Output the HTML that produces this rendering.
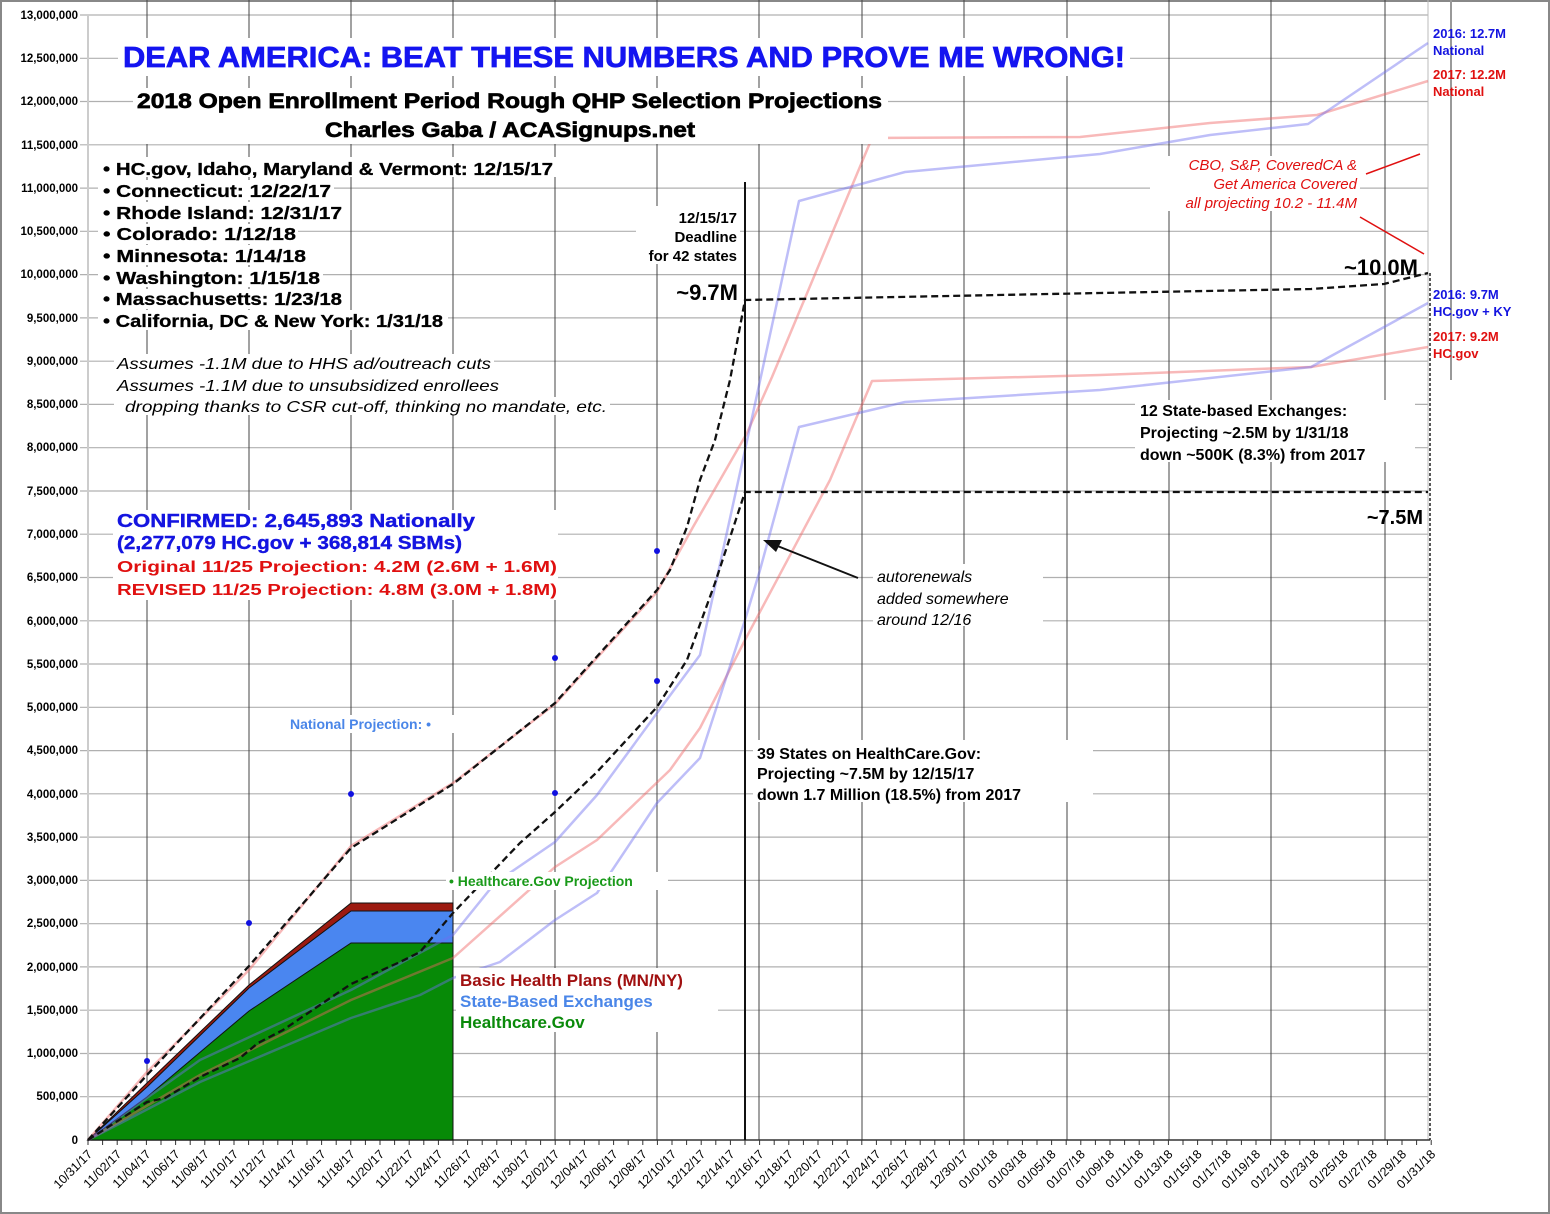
<!DOCTYPE html>
<html><head><meta charset="utf-8"><style>
html,body{margin:0;padding:0;background:#fff}
svg{display:block}
text{font-family:"Liberation Sans",sans-serif}
.yl{font-size:11.5px;font-weight:bold;text-anchor:end}
.xl{font-size:12.5px}
.b{font-weight:bold}
.h{stroke-width:0.7}
</style></head><body>
<svg width="1550" height="1214" viewBox="0 0 1550 1214" xmlns="http://www.w3.org/2000/svg">
<rect x="1" y="1" width="1548" height="1212" fill="#fff" stroke="#888" stroke-width="2"/>
<line x1="1451" y1="0" x2="1451" y2="380" stroke="#999" stroke-width="2"/>
<g stroke="#b0b0b0" stroke-width="1.2">
<line x1="80" y1="15" x2="1428" y2="15"/><line x1="80" y1="58.3" x2="1428" y2="58.3"/><line x1="80" y1="101.5" x2="1428" y2="101.5"/><line x1="80" y1="144.8" x2="1428" y2="144.8"/><line x1="80" y1="188.1" x2="1428" y2="188.1"/><line x1="80" y1="231.3" x2="1428" y2="231.3"/><line x1="80" y1="274.6" x2="1428" y2="274.6"/><line x1="80" y1="317.9" x2="1428" y2="317.9"/><line x1="80" y1="361.2" x2="1428" y2="361.2"/><line x1="80" y1="404.4" x2="1428" y2="404.4"/><line x1="80" y1="447.7" x2="1428" y2="447.7"/><line x1="80" y1="491" x2="1428" y2="491"/><line x1="80" y1="534.2" x2="1428" y2="534.2"/><line x1="80" y1="577.5" x2="1428" y2="577.5"/><line x1="80" y1="620.8" x2="1428" y2="620.8"/><line x1="80" y1="664" x2="1428" y2="664"/><line x1="80" y1="707.3" x2="1428" y2="707.3"/><line x1="80" y1="750.6" x2="1428" y2="750.6"/><line x1="80" y1="793.8" x2="1428" y2="793.8"/><line x1="80" y1="837.1" x2="1428" y2="837.1"/><line x1="80" y1="880.4" x2="1428" y2="880.4"/><line x1="80" y1="923.7" x2="1428" y2="923.7"/><line x1="80" y1="966.9" x2="1428" y2="966.9"/><line x1="80" y1="1010.2" x2="1428" y2="1010.2"/><line x1="80" y1="1053.5" x2="1428" y2="1053.5"/><line x1="80" y1="1096.7" x2="1428" y2="1096.7"/>
</g>
<g stroke="#444" stroke-width="1">
<line x1="147" y1="0" x2="147" y2="1140"/><line x1="249" y1="0" x2="249" y2="1140"/><line x1="351" y1="0" x2="351" y2="1140"/><line x1="453" y1="0" x2="453" y2="1140"/><line x1="555" y1="0" x2="555" y2="1140"/><line x1="657" y1="0" x2="657" y2="1140"/><line x1="759" y1="0" x2="759" y2="1140"/><line x1="862" y1="0" x2="862" y2="1140"/><line x1="964" y1="0" x2="964" y2="1140"/><line x1="1067" y1="0" x2="1067" y2="1140"/><line x1="1169" y1="0" x2="1169" y2="1140"/><line x1="1271" y1="0" x2="1271" y2="1140"/><line x1="1385" y1="0" x2="1385" y2="1140"/>
</g>
<line x1="1428" y1="0" x2="1428" y2="1140" stroke="#bbb" stroke-width="1"/>
<line x1="88" y1="15" x2="88" y2="1141" stroke="#ccc" stroke-width="2"/>
<line x1="88" y1="1140" x2="1430" y2="1140" stroke="#333" stroke-width="1.5"/>
<line x1="1430" y1="273" x2="1430" y2="1140" stroke="#222" stroke-width="1.5" stroke-dasharray="3,2"/>
<g class="yl">
<text x="78" y="19">13,000,000</text><text x="78" y="62">12,500,000</text><text x="78" y="105">12,000,000</text><text x="78" y="149">11,500,000</text><text x="78" y="192">11,000,000</text><text x="78" y="235">10,500,000</text><text x="78" y="278">10,000,000</text><text x="78" y="322">9,500,000</text><text x="78" y="365">9,000,000</text><text x="78" y="408">8,500,000</text><text x="78" y="451">8,000,000</text><text x="78" y="495">7,500,000</text><text x="78" y="538">7,000,000</text><text x="78" y="581">6,500,000</text><text x="78" y="625">6,000,000</text><text x="78" y="668">5,500,000</text><text x="78" y="711">5,000,000</text><text x="78" y="754">4,500,000</text><text x="78" y="798">4,000,000</text><text x="78" y="841">3,500,000</text><text x="78" y="884">3,000,000</text><text x="78" y="927">2,500,000</text><text x="78" y="971">2,000,000</text><text x="78" y="1014">1,500,000</text><text x="78" y="1057">1,000,000</text><text x="78" y="1100">500,000</text><text x="78" y="1144">0</text>
</g>
<g id="xt" stroke="#333" stroke-width="1"></g>
<g class="xl" id="xlab"></g>
<polygon points="88,1140 147,1083 249,985 351,903 453,903 453,1140" fill="#9c1a10" stroke="#111" stroke-width="1"/>
<polygon points="88,1140 147,1087 249,988 351,911 453,911 453,1140" fill="#4a86f0" stroke="#111" stroke-width="1"/>
<polygon points="88,1140 147,1097 249,1011 351,943 453,943 453,1140" fill="#078a07" stroke="#111" stroke-width="1"/>
<g fill="none" stroke-width="2.5" stroke-linejoin="round">
<polyline stroke="rgba(240,100,100,0.45)" points="88,1140 147,1072 249,970 351,846 453,783 555,704 657,592 673,563 693,527 720,480 747,433 772,377 872,138 1080,137 1210,123 1317,115 1428,81"/>
<polyline stroke="rgba(110,110,240,0.45)" points="88,1140 200,1060 351,990 453,935 495,883 555,842 597,795 657,713 700,655 745,450 799,201 905,172 1100,154 1210,135 1308,124 1428,43"/>
<polyline stroke="rgba(240,100,100,0.45)" points="88,1140 200,1075 351,1000 453,958 555,867 597,840 670,770 700,728 745,640 830,480 872,381 1100,375 1311,367 1428,347"/>
<polyline stroke="rgba(110,110,240,0.45)" points="88,1140 200,1082 351,1018 420,995 453,978 500,962 555,920 597,893 657,803 700,758 745,620 760,570 799,427 905,402 1100,390 1311,367 1428,303"/>
</g>
<g fill="none" stroke="#111" stroke-width="2.3" stroke-dasharray="7,4">
<polyline points="88,1140 147,1075 249,966 351,848 453,784 555,703 657,590 670,570 687,527 700,480 715,440 730,380 745,300 1100,293 1311,289 1384,284 1428,273"/>
<polyline points="88,1140 147,1102 165,1098 200,1077 240,1058 258,1043 283,1030 351,984 400,962 420,952 453,913 520,843 555,812 597,772 657,707 687,660 715,583 745,492 1428,492"/>
</g>
<line x1="745" y1="182" x2="745" y2="1140" stroke="#111" stroke-width="2"/>
<g fill="#1010e0">
<circle cx="147" cy="1061" r="3"/><circle cx="249" cy="923" r="3"/><circle cx="351" cy="794" r="3"/><circle cx="555" cy="658" r="3"/><circle cx="555" cy="793" r="3"/><circle cx="657" cy="551" r="3"/><circle cx="657" cy="681" r="3"/>
</g>
<rect x="118" y="38" width="1012" height="38" fill="#fff"/>
<text x="123" y="67" class="b h" font-size="29" fill="#1414f0" stroke="#1414f0" textLength="1002" lengthAdjust="spacingAndGlyphs">DEAR AMERICA: BEAT THESE NUMBERS AND PROVE ME WRONG!</text>
<rect x="133" y="88" width="755" height="56" fill="#fff"/>
<text x="137" y="108" class="b h" font-size="21" stroke="#000" textLength="745" lengthAdjust="spacingAndGlyphs">2018 Open Enrollment Period Rough QHP Selection Projections</text>
<text x="325" y="137" class="b h" font-size="21" stroke="#000" textLength="370" lengthAdjust="spacingAndGlyphs">Charles Gaba / ACASignups.net</text>
<g class="b" font-size="17.5" stroke="#000" stroke-width="0.3">
<rect x="98" y="157" width="460" height="20" fill="#fff" stroke="none"/><text x="103" y="175" textLength="450" lengthAdjust="spacingAndGlyphs">• HC.gov, Idaho, Maryland &amp; Vermont: 12/15/17</text>
<rect x="98" y="180" width="236" height="20" fill="#fff" stroke="none"/><text x="103" y="197" textLength="228" lengthAdjust="spacingAndGlyphs">• Connecticut: 12/22/17</text>
<rect x="98" y="202" width="248" height="20" fill="#fff" stroke="none"/><text x="103" y="219" textLength="239" lengthAdjust="spacingAndGlyphs">• Rhode Island: 12/31/17</text>
<rect x="98" y="224" width="200" height="20" fill="#fff" stroke="none"/><text x="103" y="240" textLength="193" lengthAdjust="spacingAndGlyphs">• Colorado: 1/12/18</text>
<rect x="98" y="245" width="210" height="20" fill="#fff" stroke="none"/><text x="103" y="262" textLength="203" lengthAdjust="spacingAndGlyphs">• Minnesota: 1/14/18</text>
<rect x="98" y="267" width="225" height="20" fill="#fff" stroke="none"/><text x="103" y="284" textLength="217" lengthAdjust="spacingAndGlyphs">• Washington: 1/15/18</text>
<rect x="98" y="289" width="246" height="20" fill="#fff" stroke="none"/><text x="103" y="305" textLength="239" lengthAdjust="spacingAndGlyphs">• Massachusetts: 1/23/18</text>
<rect x="98" y="310" width="350" height="20" fill="#fff" stroke="none"/><text x="103" y="327" textLength="340" lengthAdjust="spacingAndGlyphs">• California, DC &amp; New York: 1/31/18</text>
</g>
<g font-size="16" font-style="italic">
<rect x="114" y="354" width="380" height="60" fill="#fff"/>
<rect x="114" y="397" width="496" height="18" fill="#fff"/>
<text x="117" y="369" textLength="374" lengthAdjust="spacingAndGlyphs">Assumes -1.1M due to HHS ad/outreach cuts</text>
<text x="117" y="391" textLength="382" lengthAdjust="spacingAndGlyphs">Assumes -1.1M due to unsubsidized enrollees</text>
<text x="125" y="412" textLength="482" lengthAdjust="spacingAndGlyphs">dropping thanks to CSR cut-off, thinking no mandate, etc.</text>
</g>
<g class="b" font-size="15" text-anchor="end">
<rect x="636" y="206" width="104" height="58" fill="#fff"/>
<text x="737" y="223">12/15/17</text><text x="737" y="242">Deadline</text><text x="737" y="261">for 42 states</text>
</g>
<text x="738" y="300" class="b" font-size="22" text-anchor="end">~9.7M</text>
<text x="1418" y="275" class="b" font-size="22" text-anchor="end">~10.0M</text>
<text x="1423" y="524" class="b" font-size="20" text-anchor="end">~7.5M</text>
<g class="b" font-size="13">
<text x="1433" y="38" fill="#1414e0">2016: 12.7M</text><text x="1433" y="55" fill="#1414e0">National</text>
<text x="1433" y="79" fill="#e01010">2017: 12.2M</text><text x="1433" y="96" fill="#e01010">National</text>
<text x="1433" y="299" fill="#1414e0">2016: 9.7M</text><text x="1433" y="316" fill="#1414e0">HC.gov + KY</text>
<text x="1433" y="341" fill="#e01010">2017: 9.2M</text><text x="1433" y="358" fill="#e01010">HC.gov</text>
</g>
<g font-size="15" font-style="italic" fill="#e01010" text-anchor="end">
<rect x="1150" y="156" width="210" height="55" fill="#fff"/>
<text x="1357" y="170">CBO, S&amp;P, CoveredCA &amp;</text><text x="1357" y="189">Get America Covered</text><text x="1357" y="208">all projecting 10.2 - 11.4M</text>
</g>
<line x1="1366" y1="174" x2="1420" y2="154" stroke="#e01010" stroke-width="1.5"/>
<line x1="1360" y1="217" x2="1424" y2="254" stroke="#e01010" stroke-width="1.5"/>
<g font-size="16" class="b">
<rect x="1135" y="400" width="280" height="62" fill="#fff"/>
<text x="1140" y="416">12 State-based Exchanges:</text>
<text x="1140" y="438">Projecting ~2.5M by 1/31/18</text>
<text x="1140" y="460">down ~500K (8.3%) from 2017</text>
</g>
<g class="b" font-size="18">
<rect x="113" y="510" width="445" height="90" fill="#fff"/>
<text x="117" y="527" fill="#1414e0" stroke="#1414e0" stroke-width="0.4" textLength="358" lengthAdjust="spacingAndGlyphs">CONFIRMED: 2,645,893 Nationally</text>
<text x="117" y="549" fill="#1414e0" stroke="#1414e0" stroke-width="0.4" textLength="345" lengthAdjust="spacingAndGlyphs">(2,277,079 HC.gov + 368,814 SBMs)</text>
<text x="117" y="572" font-size="16" fill="#e01010" textLength="440" lengthAdjust="spacingAndGlyphs">Original 11/25 Projection: 4.2M (2.6M + 1.6M)</text>
<text x="117" y="595" font-size="16" fill="#e01010" textLength="440" lengthAdjust="spacingAndGlyphs">REVISED 11/25 Projection: 4.8M  (3.0M + 1.8M)</text>
</g>
<g font-size="16" font-style="italic">
<rect x="873" y="564" width="170" height="62" fill="#fff"/>
<text x="877" y="582">autorenewals</text><text x="877" y="604">added somewhere</text><text x="877" y="625">around 12/16</text>
</g>
<line x1="858" y1="578" x2="775" y2="545" stroke="#111" stroke-width="2"/>
<polygon points="763,540 782,540 776,552" fill="#111"/>
<g font-size="16" class="b">
<rect x="753" y="740" width="340" height="62" fill="#fff"/>
<text x="757" y="759">39 States on HealthCare.Gov:</text>
<text x="757" y="779">Projecting ~7.5M by 12/15/17</text>
<text x="757" y="800">down 1.7 Million (18.5%) from 2017</text>
</g>
<rect x="287" y="715" width="172" height="18" fill="#fff"/>
<text x="290" y="729" class="b" font-size="14" fill="#4a86e8">National Projection: •</text>
<rect x="446" y="872" width="222" height="18" fill="#fff"/>
<text x="449" y="886" class="b" font-size="14" fill="#1a9a1a">• Healthcare.Gov Projection</text>
<g class="b" font-size="17">
<rect x="456" y="968" width="262" height="64" fill="#fff"/>
<text x="460" y="986" fill="#a01010">Basic Health Plans (MN/NY)</text>
<text x="460" y="1007" fill="#4a86e8">State-Based Exchanges</text>
<text x="460" y="1028" fill="#0a8a0a">Healthcare.Gov</text>
</g>
<script>
(function(){
var ns="http://www.w3.org/2000/svg";
var xt=document.getElementById("xt"),xl=document.getElementById("xlab");
var start=new Date(2017,9,31);
for(var d=0;d<=92;d++){
 var x=88+d*14.6;
 var l=document.createElementNS(ns,"line");
 l.setAttribute("x1",x);l.setAttribute("x2",x);l.setAttribute("y1",1140);l.setAttribute("y2",1145);
 xt.appendChild(l);
 if(d%2==0){
  var dt=new Date(start.getTime()+d*86400000);
  var s=("0"+(dt.getMonth()+1)).slice(-2)+"/"+("0"+dt.getDate()).slice(-2)+"/"+String(dt.getFullYear()).slice(-2);
  var t=document.createElementNS(ns,"text");
  t.setAttribute("x",x+5);t.setAttribute("y",1155);
  t.setAttribute("text-anchor","end");
  t.setAttribute("transform","rotate(-45 "+(x+5)+" 1155)");
  t.textContent=s;xl.appendChild(t);
 }
}
})();
</script>
</svg>
</body></html>
